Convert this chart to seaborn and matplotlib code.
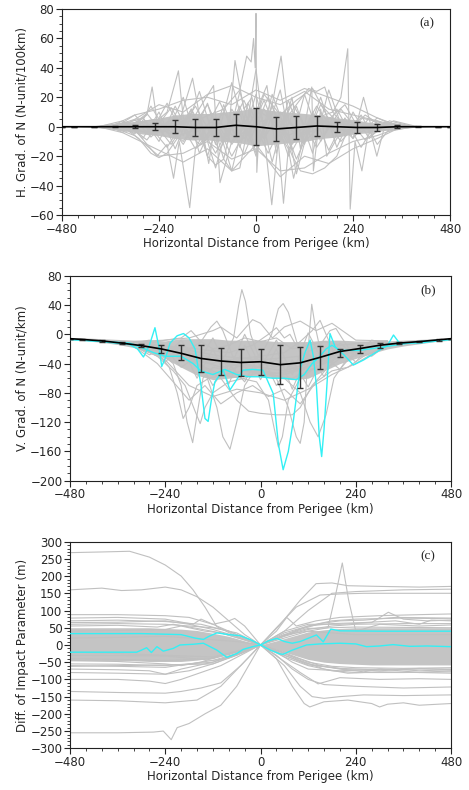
import numpy as np
import pandas as pd
import matplotlib
matplotlib.use("Agg")
import matplotlib.pyplot as plt
import seaborn as sns
from matplotlib.ticker import MultipleLocator

# ---------------- common ----------------
X_TICKS = [-480, -240, 0, 240, 480]
XLABEL = "Horizontal Distance from Perigee (km)"
GRID_X = [-480, -440, -400, -360, -320, -280, -240, -200, -160, -120, -80, -40, 0,
          40, 80, 120, 160, 200, 240, 280, 320, 360, 400, 440, 480]
MEAN_X = [-480, -450, -400, -350, -300, -250, -200, -150, -100, -50, 0,
          50, 100, 150, 200, 250, 300, 350, 400, 450, 480]
X13 = [-480, -360, -240, -180, -120, -60, 0, 60, 120, 180, 240, 360, 480]
X17 = [-320, -280, -240, -200, -160, -120, -80, -40, 0, 40, 80, 120, 160, 200, 240, 280, 320]
X19 = [-380, -320, -280, -240, -200, -160, -120, -80, -40, 0, 40, 80, 120, 160, 200, 240, 280, 320, 380]
X20 = [-400, -340, -300, -260, -220, -180, -140, -100, -60, -20, 20, 60, 100, 140, 180, 220, 260, 300, 340, 400]

# ---------------- panel (a): horizontal gradient ----------------
A_CORE_HI = [0, 0, 0.5, 1.5, 3, 4.5, 6, 8, 9, 9, 10, 11, 13, 11, 10, 9, 8, 6, 5, 3, 2, 1, 0.3, 0, 0]
A_CORE_LO = [0, 0, -0.5, -1.5, -3, -5, -6, -8, -9, -9, -10, -11, -13, -12, -11, -10, -8, -7, -5, -4, -2.5, -1, -0.3, 0, 0]
A_LINES = [
    ([-380, -300, -270, -257, -245, -220, -192, -180, -150, -100, -50, 0, 50, 100, 150, 200, 250, 300, 380],
     [0, 2, 8, 27, 4, 10, 38, 6, -4, 5, -8, 3, 6, -5, 8, -3, 2, -1, 0]),
    ([-380, -300, -245, -220, -204, -190, -164, -150, -120, -90, -60, -20, 20, 60, 110, 160, 220, 300, 380],
     [0, -2, -20, -12, -35, -10, -55, -15, -8, 5, -12, 4, -8, 10, -6, 4, -3, 1, 0]),
    ([-360, -280, -200, -157, -140, -117, -100, -70, -52, -30, -10, 10, 40, 62, 80, 120, 180, 260, 360],
     [0, 3, -6, 33, 8, -25, 5, -10, 45, 12, 20, -10, 15, 48, 5, -10, 6, -2, 0]),
    ([-300, -150, -80, -40, -23, -12, -6, -2, 0, 2, 10, 40, 80, 150, 300],
     [0, 4, 12, 25, 48, 44, 60, 40, 77, -31, 10, 5, -6, 3, 0]),
    ([-350, -250, -150, -105, -89, -60, -20, 0, 20, 39, 55, 68, 80, 93, 120, 200, 350],
     [0, -5, 8, 28, -38, -10, 6, 39, -5, -53, -10, -52, -15, -35, -5, 4, 0]),
    ([-350, -250, -180, -120, -60, 0, 27, 50, 89, 110, 138, 142, 160, 175, 200, 260, 350],
     [0, 5, -10, 15, -20, 10, 28, -18, 20, -15, 27, -30, 12, -20, -8, 6, 0]),
    ([-340, -260, -200, -140, -80, -30, 20, 80, 140, 190, 210, 227, 233, 245, 262, 280, 299, 320, 380],
     [0, -4, 6, -12, 10, -8, 12, -15, 5, 10, 20, 53, -56, -10, -30, 0, -20, 2, 0]),
    ([-350, -280, -220, -160, -100, -40, 0, 40, 100, 160, 240, 266, 290, 340, 400],
     [0, 6, -14, 12, -18, 14, -20, 22, -22, 15, -8, 20, -5, 4, 0]),
    ([-360, -300, -240, -180, -120, -60, 0, 60, 120, 180, 240, 300, 360],
     [0, -6, -20, -18, -10, -22, -15, -30, -28, -18, -10, -6, 0]),
    ([-360, -300, -240, -180, -120, -60, 0, 60, 120, 180, 240, 300, 360],
     [0, 8, 12, 18, 20, 15, 25, 18, 26, 20, 14, 6, 0]),
    ([-360, -300, -240, -180, -120, -60, 0, 60, 120, 180, 240, 300, 360],
     [0, -8, -16, -24, -15, -30, -12, -34, -20, -25, -15, -8, 0]),
    ([-360, -300, -240, -180, -120, -60, 0, 60, 120, 180, 240, 300, 360],
     [0, 5, 15, 10, 22, 28, 20, 15, 24, 12, 8, 4, 0]),
    ([-390, -330, -270, -210, -150, -90, -30, 30, 90, 150, 210, 270, 330, 390],
     [0, -4, 9, -12, 14, -16, 18, -18, 16, -14, 12, -9, 4, 0]),
    ([-390, -330, -270, -210, -150, -90, -30, 30, 90, 150, 210, 270, 330, 390],
     [0, 4, -9, 13, -15, 17, -19, 20, -16, 14, -10, 8, -3, 0]),
    (X19, [0, 3, -8, 10, -15, 12, -20, 15, -14, 22, -24, 18, -12, 20, -14, 10, -8, 3, 0]),
    (X19, [0, -3, 6, -10, 14, -8, 16, -22, 24, -18, 14, -20, 22, -10, 12, -8, 6, -2, 0]),
    (X20, [0, -2, 5, -7, 3, -12, 8, -28, 12, -6, 18, -10, 14, -18, 25, -6, 8, -12, 2, 0]),
    (X20, [0, 2, -5, 14, -4, 20, -18, 6, -30, 16, -8, 25, -32, 10, -16, 6, -14, 4, -2, 0]),
    (X20, [0, 1, 8, -4, 16, -6, 24, -12, 30, -10, 22, 8, 18, 26, 5, 15, -4, 6, 1, 0]),
    ([-330, -290, -260, -240, -220, -190, -150, -100], [0, -8, -18, -21, -18, -6, -2, 0]),
    ([60, 100, 130, 150, 170, 190, 220], [0, 15, 26, 24, 27, 10, 0]),
    ([60, 90, 110, 140, 170, 200, 230], [0, -20, -30, -32, -28, -20, 0]),
    ([-140, -120, -100, -80, -60, -40, -20], [0, -20, -26, -22, -30, -28, 0]),
]
A_MEAN = [0, 0, 0, 0, 0, 0, 0, -0.5, -0.5, 1, 0, -1.5, -0.5, 0.5, 0, -0.5, -0.5, 0, 0, 0, 0]
A_LOW = [0, 0, 0, -0.3, -1, -2.5, -4.5, -6.5, -6.5, -6.5, -12.5, -9.5, -8, -6, -3.5, -4, -3, -1, -0.2, 0, 0]
A_HIGH = [0, 0, 0, 0.3, 1, 2.5, 4.5, 5.5, 5.5, 8.5, 12.5, 6.5, 7, 7, 3.5, 3, 2, 1, 0.2, 0, 0]

# ---------------- panel (b): vertical gradient ----------------
B_CORE_HI = [-4.5, -5, -6, -7, -8, -8, -9, -6, -6, -6, -8, -8, -8, -10, -10, -10, -8, -8, -9, -9, -9, -8, -7, -6, -5]
B_CORE_LO = [-8, -9, -11, -14, -18, -25, -33, -45, -56, -62, -60, -57, -57, -60, -62, -60, -50, -40, -33, -26, -20, -16, -13, -10, -8]
B_LINES = [
    ([-320, -250, -180, -120, -90, -68, -55, -47, -38, -25, -5, 30, 80, 140, 200, 260, 320],
     [-12, -20, -35, -40, -30, -5, 40, 61, 45, 0, -30, -45, -40, -30, -22, -16, -10]),
    ([-320, -260, -220, -200, -185, -171, -160, -145, -120, -80, -40, 0, 60, 120, 180, 240, 320],
     [-13, -22, -40, -70, -120, -148, -110, -60, -45, -50, -40, -45, -50, -40, -30, -20, -12]),
    ([-320, -240, -180, -140, -110, -95, -77, -60, -40, -10, 40, 100, 160, 220, 320],
     [-14, -25, -30, -50, -100, -140, -157, -120, -70, -45, -35, -50, -35, -22, -12]),
    ([-320, -240, -160, -100, -40, 0, 28, 45, 57, 70, 91, 120, 160, 220, 320],
     [-14, -20, -35, -45, -40, -30, 0, 35, 42, 30, -10, -40, -35, -22, -12]),
    ([-320, -240, -160, -100, -50, -10, 20, 35, 45, 55, 70, 100, 140, 200, 320],
     [-15, -25, -40, -55, -60, -65, -90, -130, -154, -140, -90, -60, -45, -25, -12]),
    ([-320, -240, -160, -80, 0, 40, 70, 90, 100, 110, 120, 129, 138, 150, 170, 200, 260, 320],
     [-13, -18, -30, -40, -45, -60, -100, -140, -149, -120, -20, 41, 10, -20, -40, -30, -18, -11]),
    ([-320, -250, -190, -150, -125, -110, -95, -70, -30, 20, 80, 140, 200, 260, 320],
     [-12, -18, -25, -10, 10, 18, 5, -30, -50, -55, -60, -45, -30, -18, -11]),
    ([-320, -240, -160, -100, -60, -30, 0, 40, 80, 100, 130, 170, 220, 320],
     [-15, -25, -40, -60, -90, -105, -108, -110, -110, -100, -70, -45, -25, -12]),
    ([-320, -260, -220, -190, -165, -152, -140, -120, -80, -40, 0, 60, 120, 180, 240, 320],
     [-14, -30, -50, -70, -105, -122, -100, -80, -65, -60, -50, -55, -45, -30, -20, -12]),
    ([-320, -240, -160, -80, 0, 60, 100, 130, 150, 165, 185, 220, 260, 320],
     [-12, -18, -28, -35, -30, -25, -10, 5, 19, 0, -25, -35, -20, -10]),
    ([-320, -240, -160, -80, -20, 20, 40, 60, 74, 100, 150, 200, 260, 320],
     [-12, -16, -20, -25, -15, 0, 9, -5, 0, -25, -35, -28, -18, -10]),
    ([-320, -260, -230, -210, -195, -180, -160, -130, -90, -40, 20, 80, 140, 200, 260, 320],
     [-14, -25, -45, -80, -115, -100, -70, -60, -55, -50, -55, -50, -40, -25, -18, -12]),
    ([-320, -240, -160, -80, 0, 60, 100, 125, 145, 165, 185, 210, 250, 320],
     [-13, -20, -30, -40, -50, -60, -80, -120, -140, -110, -60, -40, -22, -11]),
    ([-320, -280, -240, -200, -175, -150, -120, -80, -40, 0, 40, 80, 120, 160, 200, 250, 320],
     [-10, -12, -8, -5, 5, -10, -20, -15, -5, -10, -5, -20, -15, -10, -15, -12, -9]),
    ([-320, -200, -100, 0, 100, 150, 175, 190, 205, 230, 260, 320],
     [-12, -20, -30, -35, -30, -15, 5, 8, -5, -25, -20, -10]),
    ([-320, -240, -180, -120, -60, 0, 60, 120, 180, 240, 320],
     [-15, -35, -70, -85, -75, -80, -90, -75, -55, -40, -14]),
    ([-320, -240, -180, -120, -100, -60, -20, 0, 30, 60, 100, 140, 180, 240, 320],
     [-10, -8, -5, 5, 10, -5, 20, 15, -5, 10, 18, 5, 15, -8, -9]),
    ([-320, -260, -220, -180, -140, -100, -60, -20, 20, 60, 100, 140, 180, 220, 260, 320],
     [-16, -40, -65, -90, -70, -95, -80, -70, -85, -75, -95, -65, -50, -45, -30, -16]),
    (X17, [-15, -28, -20, -45, -30, -70, -40, -65, -25, -70, -35, -72, -30, -48, -22, -30, -14]),
    (X17, [-10, -14, -38, -15, -60, -20, -68, -15, -62, -20, -75, -25, -58, -18, -38, -12, -10]),
    (X17, [-12, -8, -30, -8, -40, -5, -50, 0, -45, -8, -55, 2, -40, -12, -30, -8, -12]),
]
B_CYAN = [
    ([-480, -400, -330, -310, -295, -280, -266, -255, -249, -238, -228, -210, -194, -180, -165, -150,
      -140, -132, -124, -115, -94, -77, -60, -44, -20, 6, 32, 45, 57, 70, 83, 99, 112, 125, 133, 141,
      148, 154, 160, 167, 175, 188, 210, 234, 260, 290, 320, 335, 350, 400, 480],
     [-7, -10, -14, -20, -31, -15, 9, -20, -44, -30, -12, -2, 1, -5, -20, -70,
      -115, -119, -90, -65, -49, -76, -62, -49, -48, -49, -81, -150, -185, -160, -117, -49, -25, -8, -30, -72,
      -140, -167, -130, -72, 1, -17, -28, -42, -35, -25, -15, -1, -12, -12, -7]),
    ([-480, -330, -300, -270, -240, -200, -170, -150, -120, -90, -60, -30, 0, 30, 60, 90, 110, 130,
      150, 165, 180, 200, 250, 300, 350, 400, 480],
     [-7, -12, -18, -25, -30, -30, -40, -50, -55, -48, -55, -58, -58, -60, -60, -62, -55, -40,
      -30, -20, -15, -22, -22, -18, -14, -10, -7]),
]
B_MEAN = [-6, -7, -9, -12, -15.5, -20, -26, -33, -36.5, -38.5, -37.5, -41.5, -39, -31.5, -23.5, -19.5, -15, -12, -10, -7.5, -6]
B_LOW = [-6, -8, -10.5, -13.5, -18, -26, -35, -52, -56, -57.5, -55, -68.5, -73.5, -47, -31.5, -26, -19, -13.5, -11, -8.5, -6]
B_HIGH = [-6, -6, -7.5, -10.5, -13.5, -14, -15, -14, -18.5, -19.5, -20, -15, -17, -16, -20.5, -14, -11.5, -10.5, -9, -6.5, -6]

# ---------------- panel (c): impact parameter difference ----------------
C_CORE_HI = [50, 50, 50, 50, 50, 50, 48, 46, 42, 34, 25, 12, 0, 12, 25, 38, 44, 48, 50, 50, 50, 50, 50, 50, 50]
C_CORE_LO = [-46, -46, -46, -46, -46, -48, -48, -48, -44, -38, -28, -13, 0, -13, -28, -42, -50, -54, -56, -58, -58, -58, -58, -58, -58]
C_LINES = [
    ([-480, -400, -330, -280, -240, -200, -170, -140, -110, -60, 0, 40, 80, 120, 160, 240, 360, 480],
     [268, 270, 272, 255, 232, 200, 160, 110, 53, 25, 0, -30, -70, -100, -115, -120, -125, -122]),
    ([-480, -400, -350, -300, -240, -200, -160, -120, -80, -40, 0, 60, 120, 180, 240, 360, 480],
     [160, 165, 158, 160, 168, 160, 140, 110, 70, 30, 0, 40, 100, 150, 155, 160, 162]),
    ([-480, -360, -240, -160, -100, -50, 0, 50, 100, 140, 180, 220, 300, 400, 480],
     [-160, -162, -168, -160, -120, -60, 0, 60, 130, 178, 180, 172, 170, 168, 170]),
    ([-480, -360, -240, -120, -60, 0, 60, 120, 170, 190, 206, 222, 240, 300, 400, 480],
     [-20, -25, -30, -35, -20, 0, 30, 40, 50, 150, 238, 130, 40, 60, 55, 58]),
    ([-480, -360, -270, -245, -225, -210, -180, -140, -100, -60, -30, 0, 40, 90, 150, 200, 260, 360, 480],
     [-255, -255, -253, -250, -275, -240, -228, -200, -175, -120, -60, 0, 50, 110, 145, 148, 150, 150, 150]),
    ([-480, -360, -240, -200, -150, -100, -50, 0, 60, 100, 130, 160, 200, 260, 360, 480],
     [-135, -138, -140, -135, -125, -110, -60, 0, -60, -120, -150, -155, -150, -145, -147, -145]),
    ([-480, -360, -280, -240, -200, -150, -100, -50, 0, 50, 100, 145, 200, 300, 400, 480],
     [-100, -100, -105, -112, -100, -80, -60, -30, 0, -40, -80, -113, -95, -100, -98, -100]),
    ([-480, -360, -240, -120, -60, 0, 40, 80, 110, 124, 160, 220, 280, 300, 320, 360, 400, 480],
     [20, 22, 25, 15, 10, 0, -40, -120, -170, -180, -165, -160, -170, -180, -172, -168, -175, -170]),
    ([-480, -360, -240, -150, -80, 0, 60, 120, 200, 280, 322, 360, 420, 480],
     [70, 72, 68, 60, 40, 0, 40, 60, 60, 65, 95, 75, 70, 72]),
    (X13, [88, 88, 85, 80, 60, 30, 0, -35, -60, -75, -80, -80, -78]),
    ([-480, -360, -240, -170, -150, -120, -80, -65, -40, 0, 40, 80, 120, 200, 300, 400, 480],
     [78, 80, 75, 60, 75, 60, 70, 77, 55, 0, -20, -50, -70, -75, -70, -80, -75]),
    ([-480, -360, -240, -120, -60, 0, 40, 66, 90, 140, 200, 300, 400, 480],
     [-40, -42, -45, -40, -20, 0, 40, 80, 55, 70, 80, 85, 88, 90]),
    ([-480, -360, -280, -240, -200, -120, -60, 0, 60, 120, 240, 480],
     [-70, -72, -75, -85, -70, -50, -25, 0, 20, 40, 30, 30]),
    ([-480, -360, -240, -120, -60, 0, 60, 120, 200, 260, 300, 360, 400, 480],
     [60, 62, 60, 50, 35, 0, -30, -55, -70, -78, -70, -72, -75, -72]),
    ([-480, -360, -240, -120, -60, 0, 60, 120, 180, 260, 340, 400, 430, 480],
     [-62, -60, -58, -55, -30, 0, 35, 55, 62, 65, 70, 60, 72, 70]),
    ([-480, -360, -240, -120, -60, 0, 60, 120, 200, 300, 400, 480],
     [-55, -56, -60, -50, -28, 0, -30, -58, -68, -72, -70, -70]),
    (X13, [65, 66, 70, 60, 45, 25, 0, -25, -50, -62, -66, -68, -66]),
    (X13, [-60, -62, -65, -55, -45, -25, 0, 30, 55, 70, 75, 78, 76]),
    (X13, [-80, -82, -85, -75, -55, -28, 0, 25, 45, 55, 60, 62, 62]),
    ([-480, -360, -260, -220, -160, -100, -50, 0, 50, 100, 160, 220, 300, 400, 480],
     [55, 57, 52, 60, 48, 35, 18, 0, -20, -45, -70, -82, -78, -80, -82]),
    ([-480, -360, -240, -200, -150, -100, -50, 0, 50, 100, 150, 200, 260, 340, 480],
     [-45, -48, -55, -60, -50, -30, -15, 0, 22, 45, 62, 70, 72, 80, 78]),
    ([-480, -360, -240, -200, -140, -100, -50, 0, 50, 100, 150, 220, 300, 400, 480],
     [40, 42, 45, 55, 40, 35, 18, 0, -18, -40, -60, -72, -75, -68, -72]),
    ([-480, -240, -120, -80, -40, 0, 40, 80, 120, 240, 480],
     [-30, -32, -45, -38, -20, 0, 18, 35, 48, 52, 50]),
]
C_CYAN = [
    ([-480, -300, -200, -165, -144, -130, -110, -80, -52, -25, 0, 25, 49, 57, 80, 116, 150, 200, 240,
      267, 300, 334, 376, 420, 480],
     [33, 33, 30, 20, 16, 25, 35, 30, 27, 15, 0, -15, -26, -27, -15, 0, 3, 5, 3,
      -5, -3, 1, -4, -3, -5]),
    ([-480, -312, -300, -287, -275, -261, -245, -220, -203, -170, -144, -110, -85, -60, -44, -20, 0,
      20, 41, 60, 80, 100, 141, 158, 177, 200, 300, 400, 480],
     [-21, -21, -15, -8, -22, -5, -18, -10, 0, 2, 5, -15, -36, -25, -13, -5, 0,
      12, 19, 10, 5, 10, 29, 9, 46, 41, 40, 40, 40]),
]

GRAY = "#c0c0c0"
CORE_GRAY = "#c4c4c4"
CYAN = "#33f0f5"


def lines_frame(lines):
    rows = []
    for i, (xs, ys) in enumerate(lines):
        for x, y in zip(xs, ys):
            rows.append((i, x, y))
    return pd.DataFrame(rows, columns=["id", "x", "y"])


def draw_panel(ax, core_lo, core_hi, lines, cyan=None, mean=None, low=None, high=None):
    ax.fill_between(GRID_X, core_lo, core_hi, color=CORE_GRAY, lw=0, zorder=1)
    sns.lineplot(data=lines_frame(lines), x="x", y="y", units="id", estimator=None,
                 sort=False, color=GRAY, lw=0.8, ax=ax, zorder=2)
    if cyan:
        sns.lineplot(data=lines_frame(cyan), x="x", y="y", units="id", estimator=None,
                     sort=False, color=CYAN, lw=1.0, ax=ax, zorder=3)
    if mean is not None:
        m = np.array(mean)
        err = [m - np.array(low), np.array(high) - m]
        ax.errorbar(MEAN_X, m, yerr=err, color="black", ecolor="#333333", lw=1.2,
                    elinewidth=1.0, capsize=2.5, capthick=1.0, zorder=4)


def style_axis(ax, ylim, ymajor, yminor, ylabel, tag):
    ax.set_xlim(-480, 480)
    ax.set_ylim(*ylim)
    ax.set_xticks(X_TICKS)
    ax.xaxis.set_minor_locator(MultipleLocator(40))
    ax.yaxis.set_major_locator(MultipleLocator(ymajor))
    ax.yaxis.set_minor_locator(MultipleLocator(yminor))
    ax.tick_params(which="major", direction="out", length=4, width=0.8, labelsize=8.5, pad=1.5)
    ax.tick_params(which="minor", direction="out", length=2.2, width=0.6)
    ax.set_xlabel(XLABEL, fontsize=8.5, labelpad=1)
    ax.set_ylabel(ylabel, fontsize=8.5, labelpad=1)
    for s in ax.spines.values():
        s.set_visible(True)
        s.set_color("#222222")
        s.set_linewidth(0.8)
    ax.text(0.94, 0.93, tag, transform=ax.transAxes, ha="center", va="center",
            fontsize=9.5, family="Liberation Serif")


sns.set_style("ticks")
plt.rcParams["font.family"] = ["DejaVu Sans"]
plt.rcParams["axes.unicode_minus"] = True

fig = plt.figure(figsize=(4.69, 7.90), dpi=100)
ax_a = fig.add_axes([0.1322, 0.7278, 0.8273, 0.2608])
ax_b = fig.add_axes([0.1493, 0.3915, 0.8124, 0.2595])
ax_c = fig.add_axes([0.1493, 0.0528, 0.8124, 0.2616])

draw_panel(ax_a, A_CORE_LO, A_CORE_HI, A_LINES, mean=A_MEAN, low=A_LOW, high=A_HIGH)
style_axis(ax_a, (-60, 80), 20, 5, "H. Grad. of N (N-unit/100km)", "(a)")

draw_panel(ax_b, B_CORE_LO, B_CORE_HI, B_LINES, cyan=B_CYAN, mean=B_MEAN, low=B_LOW, high=B_HIGH)
style_axis(ax_b, (-200, 80), 40, 10, "V. Grad. of N (N-unit/km)", "(b)")

draw_panel(ax_c, C_CORE_LO, C_CORE_HI, C_LINES, cyan=C_CYAN)
style_axis(ax_c, (-300, 300), 50, 10, "Diff. of Impact Parameter (m)", "(c)")

fig.savefig("out.png", dpi=100)
